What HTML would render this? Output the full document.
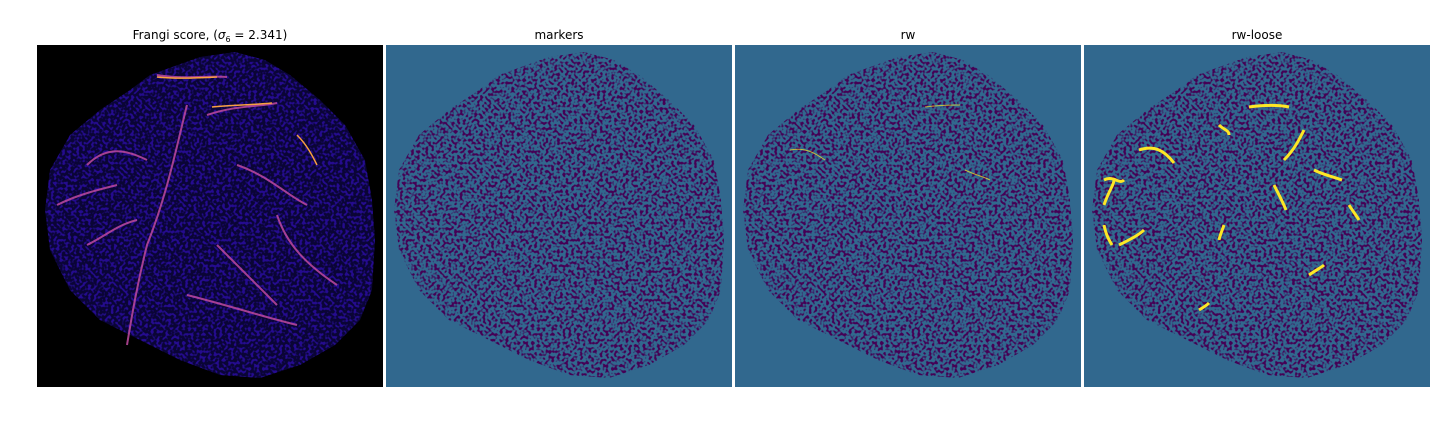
<!DOCTYPE html>
<html><head><meta charset="utf-8"><style>
body{margin:0;background:#fff;}
svg{display:block;font-family:"DejaVu Sans","Liberation Sans",sans-serif;}
</style></head><body>
<svg width="1440" height="432" viewBox="0 0 1440 432">
<defs>
<polygon id="blob" points="113,30 163,12 198,7 228,15 253,30 283,55 308,80 328,115 335,155 338,195 335,245 323,275 298,300 263,320 223,333 183,330 143,315 103,295 63,275 33,245 13,205 8,165 13,125 33,90 63,65 93,45"/>
<filter id="tex" x="0" y="0" width="100%" height="100%">
<feTurbulence type="fractalNoise" baseFrequency="0.35" numOctaves="1" seed="3" result="n"/>
<feColorMatrix in="n" type="matrix" values="0 0 0 0 0  0 0 0 0 0  0 0 0 0 0  0 0 0 -6 3.2" result="m"/>
<feComposite in="SourceGraphic" in2="m" operator="in"/>
</filter>
</defs>
<g>
<text x="210" y="39" text-anchor="middle" font-size="12">Frangi score, (<tspan font-style="italic">σ</tspan><tspan font-size="8" dy="3">6</tspan><tspan dy="-3"> = 2.341)</tspan></text>
<rect x="37" y="45" width="346" height="342" fill="#000"/>
<g transform="translate(37,45)">
<use href="#blob" fill="#0a0535"/>
<use href="#blob" fill="#2a10a0" filter="url(#tex)" opacity="0.85"/>
<g fill="none" stroke="#c04aa0" stroke-width="2" opacity="0.85">
<path d="M120,30 C150,35 170,30 190,32"/><path d="M150,60 C140,100 130,150 110,200 C100,240 95,270 90,300"/>
<path d="M170,70 C200,60 220,62 240,58"/><path d="M50,120 C70,100 90,105 110,115"/>
<path d="M20,160 C40,150 60,145 80,140"/><path d="M200,120 C230,130 250,150 270,160"/>
<path d="M240,170 C250,200 270,220 300,240"/><path d="M50,200 C70,190 80,180 100,175"/>
<path d="M150,250 C190,260 220,270 260,280"/><path d="M180,200 C200,220 220,240 240,260"/>
</g>
<g fill="none" stroke="#f8a040" stroke-width="1.5">
<path d="M175,62 C195,60 215,60 235,58"/><path d="M120,32 C140,34 160,33 180,32"/><path d="M260,90 C270,100 275,110 280,120"/>
</g>
</g>
</g>
<g>
<text x="559" y="39" text-anchor="middle" font-size="12">markers</text>
<rect x="386" y="45" width="346" height="342" fill="#31688e"/>
<g transform="translate(386,45)">
<use href="#blob" fill="#440154" filter="url(#tex)"/>
</g>
</g>
<g>
<text x="908" y="39" text-anchor="middle" font-size="12">rw</text>
<rect x="735" y="45" width="346" height="342" fill="#31688e"/>
<g transform="translate(735,45)">
<use href="#blob" fill="#440154" filter="url(#tex)"/>
<g fill="none" stroke="#fde725" stroke-width="1" opacity="0.7">
<path d="M55,105 C70,102 80,108 90,115"/><path d="M190,62 C205,60 215,60 225,60"/><path d="M230,125 C240,130 250,132 255,135"/>
</g>
</g>
</g>
<g>
<text x="1257" y="39" text-anchor="middle" font-size="12">rw-loose</text>
<rect x="1084" y="45" width="346" height="342" fill="#31688e"/>
<g transform="translate(1084,45)">
<use href="#blob" fill="#440154" filter="url(#tex)"/>
<g fill="none" stroke="#fde725" stroke-width="3">
<path d="M55,105 C70,100 80,105 90,118"/><path d="M20,135 C30,130 35,140 40,135"/><path d="M20,160 C25,145 30,140 30,135"/>
<path d="M165,62 C180,60 195,60 205,62"/><path d="M135,80 C140,85 145,85 145,90"/><path d="M200,115 C210,105 215,95 220,85"/>
<path d="M230,125 C240,130 250,132 258,135"/><path d="M35,200 C45,195 55,190 60,185"/><path d="M20,180 C22,190 25,195 28,200"/>
<path d="M225,230 C232,225 238,222 240,220"/><path d="M115,265 C120,262 123,260 125,258"/><path d="M140,180 C138,186 136,190 135,195"/>
<path d="M265,160 C268,165 272,170 275,175"/><path d="M190,140 C195,150 198,155 202,165"/>
</g>
</g>
</g>
</svg>
</body></html>
